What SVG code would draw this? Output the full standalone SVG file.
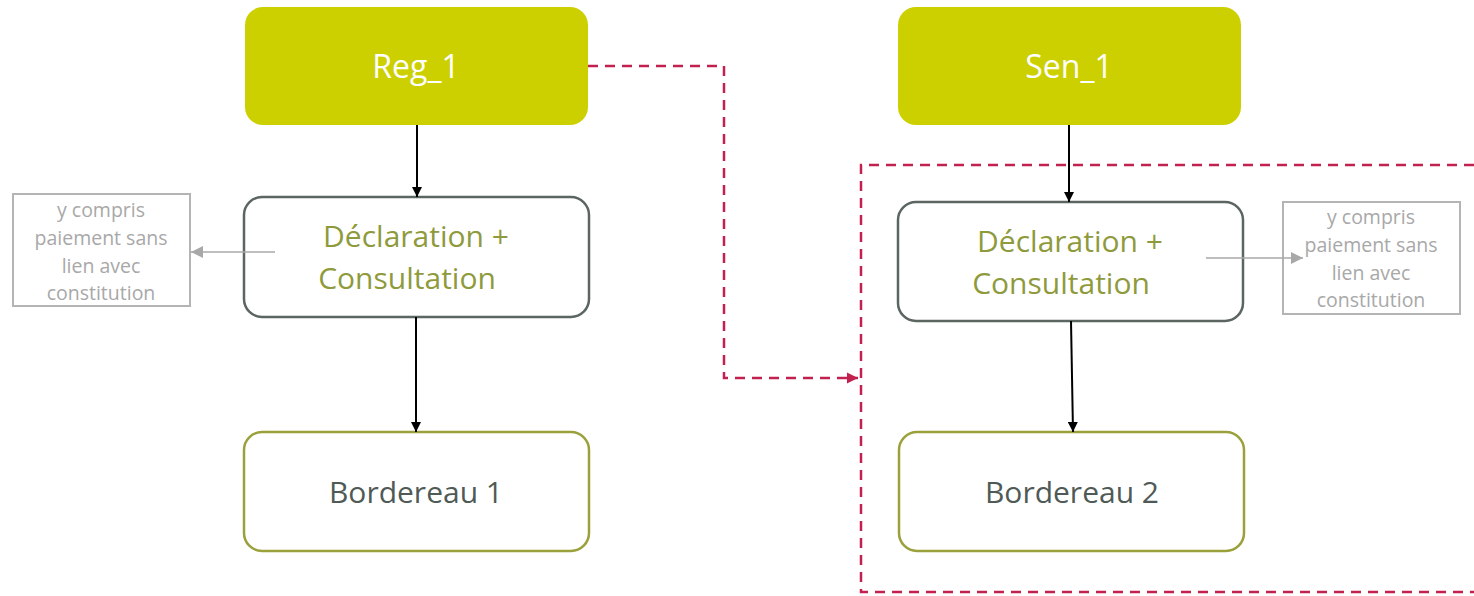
<svg xmlns="http://www.w3.org/2000/svg" width="1474" height="596" viewBox="0 0 1474 596">
  <style>
    .head rect { fill: #cdd000; }
    .head text { fill: #ffffff; font-family: "Open Sans", "Liberation Sans", sans-serif; font-size: 32px; text-anchor: middle; }
    .decl rect { fill: #ffffff; stroke: #5c6660; stroke-width: 2.5; }
    .decl text { fill: #8e9a3c; font-family: "Open Sans", "Liberation Sans", sans-serif; font-size: 30px; text-anchor: middle; }
    .bord rect { fill: #ffffff; stroke: #9aa03a; stroke-width: 2.5; }
    .bord text { fill: #4f5a56; font-family: "Open Sans", "Liberation Sans", sans-serif; font-size: 30px; text-anchor: middle; }
    .note rect { fill: #ffffff; stroke: #b4b4b4; stroke-width: 2; }
    .note text { fill: #a8a8a8; font-family: "Open Sans", "Liberation Sans", sans-serif; font-size: 19.5px; text-anchor: middle; }
    .flow { stroke: #000000; stroke-width: 2; fill: none; marker-end: url(#arrowBlack); }
    .aside { stroke: #a8a8a8; stroke-width: 1.5; fill: none; marker-end: url(#arrowGray); }
    .dash { stroke: #c2204f; stroke-width: 2.5; fill: none; stroke-dasharray: 10 7; }
  </style>
  <defs>
    <marker id="arrowBlack" viewBox="0 0 10 10" refX="10" refY="5" markerWidth="5" markerHeight="5" orient="auto" markerUnits="strokeWidth">
      <path d="M0,0 L10,5 L0,10 z" fill="#000000"/>
    </marker>
    <marker id="arrowGray" viewBox="0 0 10 10" refX="10" refY="5" markerWidth="8" markerHeight="8" orient="auto" markerUnits="strokeWidth">
      <path d="M0,0 L10,5 L0,10 z" fill="#a8a8a8"/>
    </marker>
    <marker id="arrowRed" viewBox="0 0 10 10" refX="10" refY="5" markerWidth="4.5" markerHeight="4.5" orient="auto" markerUnits="strokeWidth">
      <path d="M0,0 L10,5 L0,10 z" fill="#c2204f"/>
    </marker>
  </defs>

  <!-- dashed frame around the second chain -->
  <path id="frame" class="dash" d="M1474,165 L861,165 L861,592 L1474,592"/>

  <g id="reg1" class="head">
    <rect x="245" y="7" width="343" height="118" rx="18"/>
    <text x="416" y="78">Reg_1</text>
  </g>
  <g id="sen1" class="head">
    <rect x="898" y="7" width="343" height="118" rx="18"/>
    <text x="1069" y="78">Sen_1</text>
  </g>

  <g id="decl1" class="decl">
    <rect x="244" y="197" width="345" height="120" rx="18"/>
    <text x="416" y="247">Déclaration +</text>
    <text x="407" y="289">Consultation</text>
  </g>
  <g id="decl2" class="decl">
    <rect x="898" y="202" width="345" height="119" rx="18"/>
    <text x="1070" y="252">Déclaration +</text>
    <text x="1061" y="294">Consultation</text>
  </g>

  <g id="bord1" class="bord">
    <rect x="244" y="432" width="345" height="119" rx="18"/>
    <text x="416" y="503">Bordereau 1</text>
  </g>
  <g id="bord2" class="bord">
    <rect x="899" y="432" width="345" height="119" rx="18"/>
    <text x="1072" y="503">Bordereau 2</text>
  </g>

  <g id="note1" class="note">
    <rect x="13" y="194" width="177" height="112"/>
    <text x="101" y="217">y compris</text>
    <text x="101" y="245">paiement sans</text>
    <text x="101" y="273">lien avec</text>
    <text x="101" y="300">constitution</text>
  </g>
  <g id="note2" class="note">
    <rect x="1283" y="202" width="177" height="112"/>
    <text x="1371" y="224">y compris</text>
    <text x="1371" y="252">paiement sans</text>
    <text x="1371" y="280">lien avec</text>
    <text x="1371" y="307">constitution</text>
  </g>

  <g id="connectors">
    <line class="flow" x1="417" y1="125" x2="417" y2="197"/>
    <line class="flow" x1="416" y1="317" x2="416" y2="432"/>
    <line class="flow" x1="1069" y1="125" x2="1069" y2="202"/>
    <line class="flow" x1="1071" y1="321" x2="1073" y2="432"/>
    <line class="aside" x1="275" y1="252" x2="191" y2="252"/>
    <line class="aside" x1="1206" y1="258" x2="1303" y2="258"/>
    <path class="dash" d="M588,66 L724,66 L724,378 L858,378" marker-end="url(#arrowRed)"/>
  </g>
</svg>
